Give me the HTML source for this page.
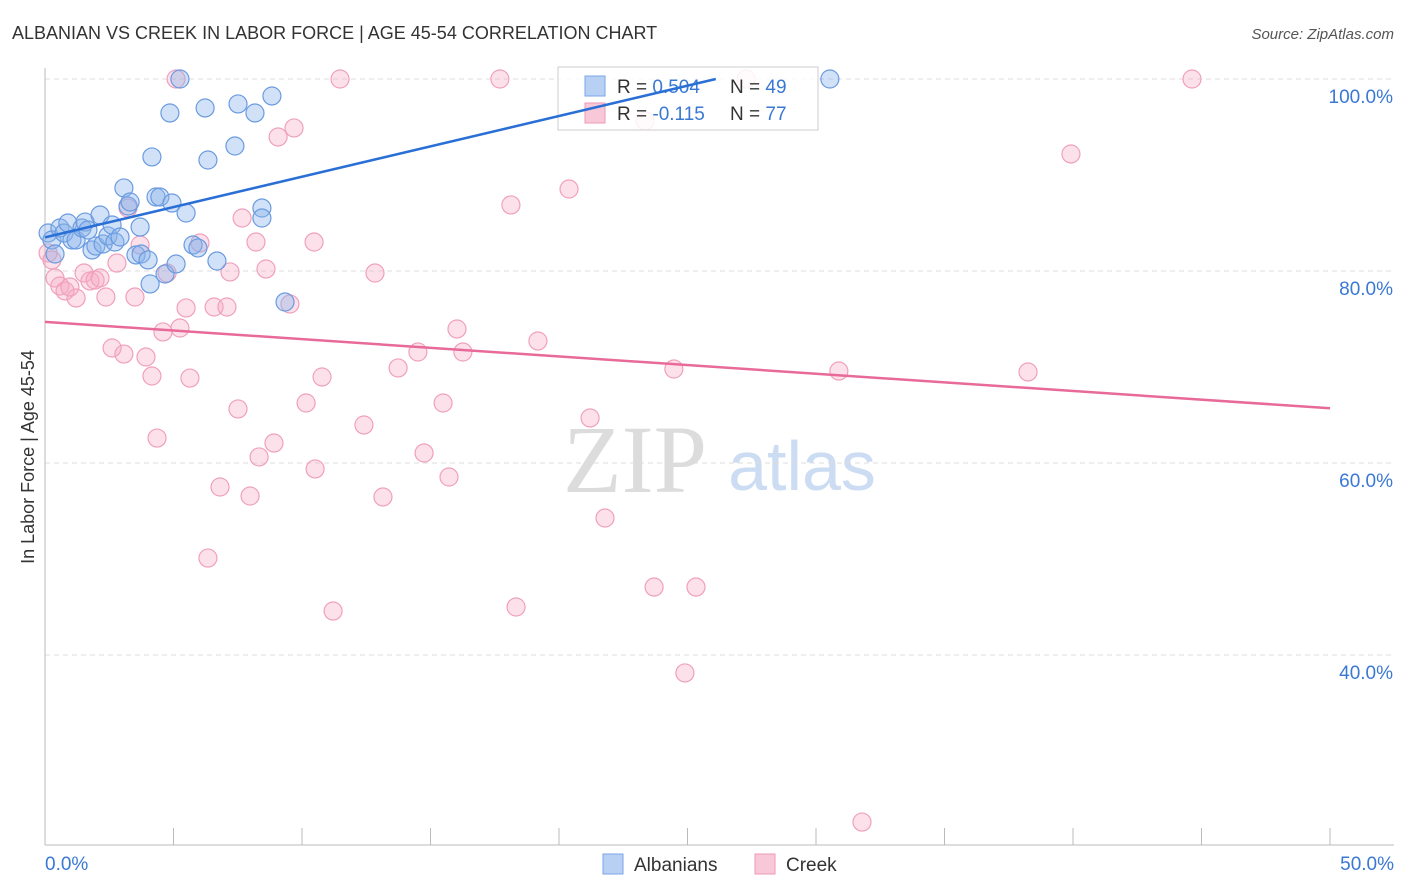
<!DOCTYPE html>
<html><head><meta charset="utf-8"><style>
body{margin:0;background:#fff;font-family:"Liberation Sans",sans-serif;}
svg{display:block}
</style></head><body>
<svg id="c" width="1406" height="892" xmlns="http://www.w3.org/2000/svg">
<text x="12" y="39" font-size="18" fill="#333">ALBANIAN VS CREEK IN LABOR FORCE | AGE 45-54 CORRELATION CHART</text>
<text x="1394" y="39" font-size="15" fill="#555" font-style="italic" text-anchor="end">Source: ZipAtlas.com</text>
<text x="635" y="492" font-size="96" fill="#dcdcdc" font-family="Liberation Serif,serif" text-anchor="middle">ZIP</text>
<text x="802" y="490" font-size="70" fill="#ccdcf2" text-anchor="middle">atlas</text>
<g id="grid"></g>
<g id="pts"></g>
<g>
<rect x="558" y="67" width="260" height="63" fill="rgba(255,255,255,0.85)" stroke="#ccc"/>
<rect x="585" y="76" width="20" height="20" fill="#b8d0f4" stroke="#7aa6e6"/>
<text x="617" y="93" font-size="19" fill="#333">R = <tspan fill="#3a78d4">0.504</tspan></text>
<text x="730" y="93" font-size="19" fill="#333">N = <tspan fill="#3a78d4">49</tspan></text>
<rect x="585" y="103" width="20" height="20" fill="#f8c8d8" stroke="#ee9ab8"/>
<text x="617" y="120" font-size="19" fill="#333">R = <tspan fill="#3a78d4">-0.115</tspan></text>
<text x="730" y="120" font-size="19" fill="#333">N = <tspan fill="#3a78d4">77</tspan></text>
</g>
<g id="lines" opacity="1"></g>
<text x="34" y="457" font-size="18" fill="#333" text-anchor="middle" transform="rotate(-90 34 457)">In Labor Force | Age 45-54</text>
<g>
<rect x="603" y="854" width="20" height="20" fill="#b8d0f4" stroke="#7aa6e6"/>
<text x="634" y="871" font-size="19" fill="#333">Albanians</text>
<rect x="755" y="854" width="20" height="20" fill="#f8c8d8" stroke="#ee9ab8"/>
<text x="786" y="871" font-size="19" fill="#333">Creek</text>
</g>
</svg>
<script>
const yTicks=[40,60,80,100];
const xTickLabels=["0.0%","50.0%"];
const bluePx=[[48,233],[52,240],[55,254],[60,228],[64,233],[68,223],[72,240],[76,240],[82,228],[85,222],[88,230],[92,250],[96,246],[100,215],[103,244],[108,236],[112,225],[115,242],[120,237],[124,188],[128,206],[130,202],[136,255],[140,227],[141,254],[148,260],[150,284],[152,157],[156,197],[160,197],[165,274],[170,113],[172,203],[176,264],[180,79],[186,213],[193,245],[198,248],[205,108],[208,160],[217,261],[235,146],[238,104],[255,113],[262,208],[262,218],[272,96],[285,302],[830,79]];
const pinkPx=[[48,253],[52,260],[55,278],[60,286],[65,291],[70,287],[76,298],[84,273],[90,281],[95,280],[100,278],[106,297],[112,348],[117,263],[124,354],[128,208],[135,297],[140,245],[146,357],[152,376],[157,438],[163,332],[167,273],[176,79],[180,328],[186,308],[190,378],[200,243],[208,558],[214,307],[220,487],[227,307],[230,272],[238,409],[242,218],[250,496],[256,242],[259,457],[266,269],[274,443],[278,137],[290,304],[294,128],[306,403],[315,469],[314,242],[322,377],[333,611],[340,79],[364,425],[375,273],[383,497],[398,368],[418,352],[424,453],[443,403],[449,477],[457,329],[463,352],[500,79],[511,205],[516,607],[538,341],[569,189],[590,418],[605,518],[645,121],[654,587],[674,369],[685,673],[696,587],[746,79],[839,371],[862,822],[1028,372],[1071,154],[1192,79]];
const blueX=bluePx.map(p=>+((p[0]-45)/1285*50).toFixed(2));
const blueY=bluePx.map(p=>+(100-(p[1]-79)/9.6).toFixed(2));
const pinkX=pinkPx.map(p=>+((p[0]-45)/1285*50).toFixed(2));
const pinkY=pinkPx.map(p=>+(100-(p[1]-79)/9.6).toFixed(2));
const blueLine=[[0,83.5],[26.1,100]];
const pinkLine=[[0,74.7],[50,65.7]];
const sx=v=>45+v/50*1285, sy=v=>79+(100-v)*9.6;
const NS="http://www.w3.org/2000/svg";
function mk(t,a,par){const e=document.createElementNS(NS,t);for(const k in a)e.setAttribute(k,a[k]);document.getElementById(par).appendChild(e);return e;}
yTicks.forEach(t=>{
 const l=mk('line',{x1:45,x2:1394,y1:sy(t),y2:sy(t),stroke:'#ddd','stroke-dasharray':'5,4'},'grid');
 
 
 const tx=mk('text',{x:1393,y:sy(t)+24,'font-size':19,fill:'#3a78d4','text-anchor':'end'},'grid');
 tx.textContent=t.toFixed(1)+'%';
 
 
});
const ax=mk('line',{x1:45,x2:45,y1:68,y2:845,stroke:'#bbb'},'grid');


const bx=mk('line',{x1:45,x2:1394,y1:845,y2:845,stroke:'#bbb'},'grid');


for(let i=0;i<=10;i++){const t=mk('line',{x1:sx(i*5),x2:sx(i*5),y1:828,y2:845,stroke:'#bbb'},'grid');
 
 }
xTickLabels.forEach((s,i)=>{const t=mk('text',{x:i?1394:45,y:870,'font-size':19,fill:'#3a78d4','text-anchor':i?'end':'start'},'grid');t.textContent=s;
 
 });
pinkX.forEach((x,i)=>{const c=mk('circle',{cx:sx(x),cy:sy(pinkY[i]),r:9,fill:'rgba(245,170,195,0.35)',stroke:'#f0a0bc','stroke-width':1.2},'pts');
 
 });
blueX.forEach((x,i)=>{const c=mk('circle',{cx:sx(x),cy:sy(blueY[i]),r:9,fill:'rgba(140,180,235,0.4)',stroke:'#6a9be0','stroke-width':1.2},'pts');
 
 });
const l1=mk('line',{x1:sx(blueLine[0][0]),y1:sy(blueLine[0][1]),x2:sx(blueLine[1][0]),y2:sy(blueLine[1][1]),stroke:'#2a6fd6','stroke-width':2.5},'lines');


const l2=mk('line',{x1:sx(pinkLine[0][0]),y1:sy(pinkLine[0][1]),x2:sx(pinkLine[1][0]),y2:sy(pinkLine[1][1]),stroke:'#e86a98','stroke-width':2.5},'lines');


</script>
</body></html>
